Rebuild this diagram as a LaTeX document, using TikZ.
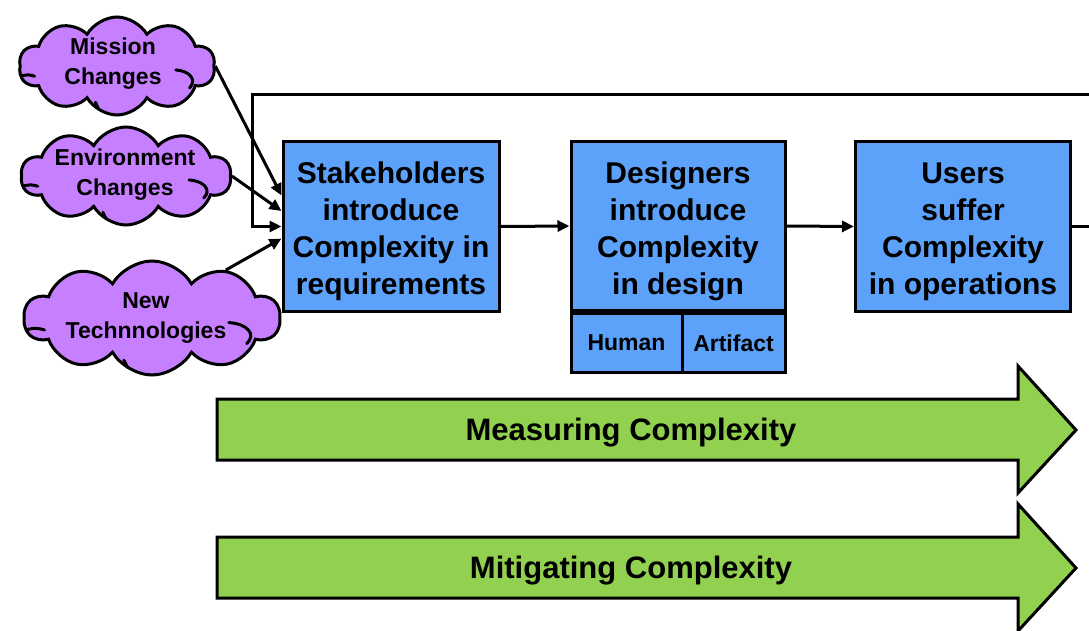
\documentclass[tikz,border=0pt]{standalone}
\usepackage{fontspec}
\setmainfont{Liberation Sans}
\usetikzlibrary{shapes.symbols,arrows.meta,calc}

\definecolor{boxblue}{HTML}{5CA1FA}
\definecolor{cloudpurple}{HTML}{C680FF}
\definecolor{arrowgreen}{HTML}{92D050}

\tikzset{
  stagebox/.style={draw=black, line width=3pt, fill=boxblue, inner sep=0pt},
  stagetext/.style={align=center, inner sep=0pt,
    font=\fontsize{30}{37}\selectfont\bfseries},
  subbox/.style={draw=black, line width=3pt, fill=boxblue, inner sep=0pt,
    font=\fontsize{23}{27}\selectfont\bfseries},
  driver/.style={cloud, cloud puffs=10, cloud puff arc=120, aspect=2.2,
    draw=black, line width=3pt, fill=cloudpurple, inner sep=0pt},
  drivertext/.style={align=center, inner sep=0pt,
    font=\fontsize{23}{30}\selectfont\bfseries},
  curl/.style={line width=3pt, line cap=round},
  flow/.style={line width=3pt, -{Triangle[length=12pt,width=11pt]}},
  phasearrow/.style={draw=black, line width=3pt, fill=arrowgreen, line join=miter},
  phaselabel/.style={font=\fontsize{31}{37}\selectfont\bfseries, inner sep=0pt}
}

% inner curls of a cloud, in units of its half width and half height
\newcommand{\cloudcurls}[3]{%
  \begin{scope}[shift={(#1.center)}, xscale=#2, yscale=#3]
    \draw[curl] (-0.97,0.2) .. controls (-0.92,0.17) and (-0.88,0.18) .. (-0.84,0.21);
    \draw[curl] (0.6,0.08) .. controls (0.74,0.1) and (0.82,0.28) .. (0.74,0.45);
    \draw[curl] (-0.22,0.74) .. controls (-0.21,0.79) and (-0.2,0.83) .. (-0.19,0.87);
  \end{scope}}

\begin{document}
\begin{tikzpicture}[x=1pt, y=-1pt]
  \clip (0,0) rectangle (1089,631);
  \fill[white] (0,0) rectangle (1089,631);

  % the three stages
  \node[stagebox, minimum width=216pt, minimum height=169pt] (stake) at (391,226.5) {};
  \node[stagetext] (staketext) at (391,231.5)
    {Stakeholders\\introduce\\Complexity in\\requirements};
  \node[stagebox, minimum width=214pt, minimum height=169pt] (design) at (678,226) {};
  \node[stagetext] (designtext) at (678,231)
    {Designers\\introduce\\Complexity\\in design};
  \node[stagebox, minimum width=215pt, minimum height=169pt] (users) at (963,226.5) {};
  \node[stagetext] (userstext) at (963,231.5)
    {Users\\suffer\\Complexity\\in operations};

  % sub-compartments under the design stage
  \node[subbox, minimum width=111pt, minimum height=59pt, anchor=north west]
    (human) at (design.south west) {Human};
  \node[subbox, minimum width=103pt, minimum height=59pt, anchor=north east]
    (artifact) at (design.south east) {Artifact};

  % external drivers
  \node[driver, minimum width=196pt, minimum height=98pt] (mission) at (117,66) {};
  \cloudcurls{mission}{98}{49}
  \node[drivertext] (missiontext) at (113,64) {Mission\\Changes};
  \node[driver, minimum width=210pt, minimum height=98pt] (environ) at (126,176) {};
  \cloudcurls{environ}{105}{49}
  \node[drivertext] (environtext) at (125,175) {Environment\\Changes};
  \node[driver, minimum width=256pt, minimum height=114pt] (newtech) at (152,318) {};
  \cloudcurls{newtech}{128}{57}
  \node[drivertext] (newtechtext) at (146,318) {New\\Technnologies};

  % flow between stages
  \draw[flow] (stake.east) -- (design.west);
  \draw[flow] (design.east) -- (users.west);

  % feedback loop from operations back to requirements
  \coordinate (loopright) at (1110,95);
  \coordinate (loopleft) at (252,95);
  \draw[flow] (users.east) -| (loopright) -- (loopleft) |- (stake.west);

  % drivers feeding the requirements stage
  \draw[flow] (mission.east) -- ($(stake.north west)!0.32!(stake.south west)$);
  \draw[flow] (environ.east) -- ($(stake.north west)!0.41!(stake.south west)$);
  \draw[flow] (newtech.33) -- ($(stake.north west)!0.57!(stake.south west)$);

  % phase arrows
  \draw[phasearrow] (217,399) -- (1018,399) -- (1018,366) -- (1076,430)
    -- (1018,493) -- (1018,460) -- (217,460) -- cycle;
  \node[phaselabel] (measure) at (631,433) {Measuring Complexity};

  \draw[phasearrow] (217,537) -- (1018,537) -- (1018,504) -- (1076,568)
    -- (1018,631) -- (1018,598) -- (217,598) -- cycle;
  \node[phaselabel] (mitigate) at (631,571) {Mitigating Complexity};
\end{tikzpicture}
\end{document}
